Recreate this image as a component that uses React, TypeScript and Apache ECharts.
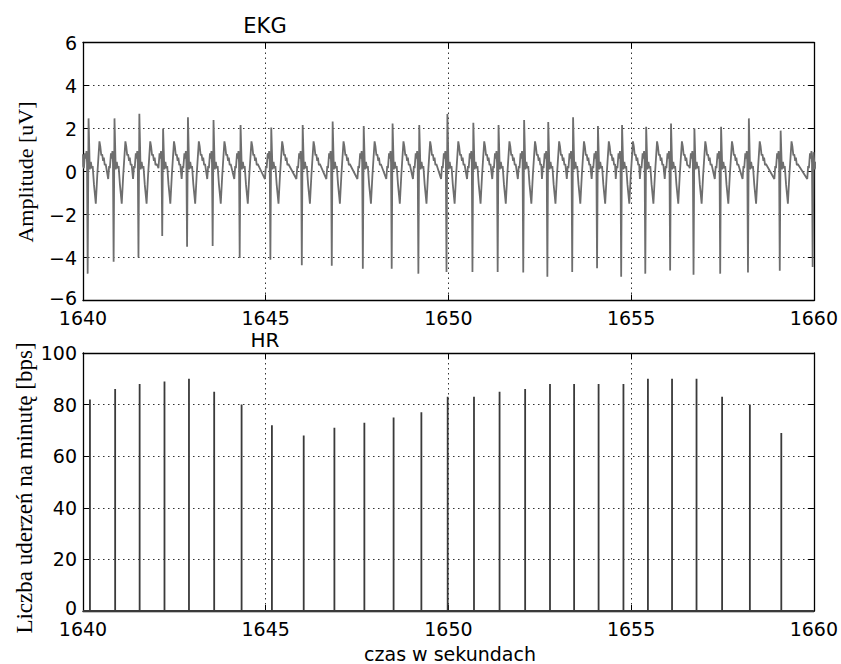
import React, { useEffect, useRef } from "react";
import * as echarts from "echarts";

// ---- Data ----
const xTicks = [1640, 1645, 1650, 1655, 1660];
const ecgYTicks = [-6, -4, -2, 0, 2, 4, 6];
const hrYTicks = [0, 20, 40, 60, 80, 100];

// ECG: QRS complex times (s), R-peak heights and S-trough depths (uV)
const ecgBeatTimes = [
  1640.14, 1640.85, 1641.53, 1642.18, 1642.86, 1643.56, 1644.3, 1645.14, 1646.0,
  1646.82, 1647.67, 1648.46, 1649.19, 1649.96, 1650.67, 1651.36, 1652.06, 1652.72,
  1653.4, 1654.08, 1654.74, 1655.4, 1656.08, 1656.72, 1657.45, 1658.21, 1659.08, 1659.98,
];
const ecgRPeaks = [
  2.47, 2.47, 2.68, 2.0, 2.52, 2.4, 2.16, 2.05, 2.16, 2.32, 2.12, 2.23, 2.16, 2.68,
  2.27, 2.16, 2.4, 2.3, 2.52, 2.12, 2.16, 2.08, 2.23, 2.0, 2.08, 2.47, 1.9, 0.9,
];
const ecgSTroughs = [
  -4.75, -4.2, -4.0, -3.0, -3.5, -3.46, -4.02, -4.1, -4.36, -4.38, -4.52, -4.52, -4.75,
  -4.67, -4.67, -4.67, -4.7, -4.9, -4.67, -4.5, -4.9, -4.75, -4.6, -4.8, -4.75, -4.7,
  -4.62, -4.44,
];
// Shape of one beat around the QRS, read from a representative beat (offset s, value uV)
const ecgPreWave = [
  [-0.16, -0.35],
  [-0.135, 0.25],
  [-0.115, 0.15],
  [-0.085, 0.85],
  [-0.065, 0.6],
  [-0.045, 0.95],
  [-0.03, 0.4],
];
const ecgPostWave = [
  [0.045, 0.1],
  [0.075, 0.45],
  [0.1, 0.15],
  [0.125, 0.25],
  [0.16, -0.6],
  [0.21, -1.5],
  [0.25, -0.2],
  [0.31, 1.4],
  [0.335, 1.15],
  [0.36, 0.75],
  [0.385, 0.8],
  [0.41, 0.5],
  [0.43, 0.65],
  [0.455, 0.3],
  [0.48, 0.35],
];
const ecgStartValue = 0.8;

// HR: beat times (s) and heart rate (beats per minute)
const hrTimes = [
  1640.19, 1640.88, 1641.55, 1642.23, 1642.9, 1643.59, 1644.34, 1645.17, 1646.04,
  1646.88, 1647.7, 1648.5, 1649.26, 1649.98, 1650.7, 1651.4, 1652.1, 1652.78, 1653.44,
  1654.11, 1654.79, 1655.46, 1656.12, 1656.79, 1657.49, 1658.25, 1659.11,
];
const hrValues = [
  82, 86, 88, 89, 90, 85, 80, 72, 68, 71, 73, 75, 77, 83, 83, 85, 86, 88, 88, 88, 88,
  90, 90, 90, 83, 80, 69,
];

function buildEcg(): number[][] {
  const pts: number[][] = [[xTicks[0], ecgStartValue]];
  ecgBeatTimes.forEach((t, i) => {
    const next = i + 1 < ecgBeatTimes.length ? ecgBeatTimes[i + 1] : Infinity;
    const prev = i > 0 ? ecgBeatTimes[i - 1] : -Infinity;
    ecgPreWave.forEach(([o, v]) => {
      if (t + o > prev + 0.49 && t + o > xTicks[0]) pts.push([t + o, v]);
    });
    pts.push([t - 0.012, ecgSTroughs[i]]);
    pts.push([t + 0.012, ecgRPeaks[i]]);
    ecgPostWave.forEach(([o, v]) => {
      if (t + o < next - 0.165) pts.push([t + o, v]);
    });
  });
  pts.sort((a, b) => a[0] - b[0]);
  return pts;
}

function buildHr(): number[][] {
  const pts: number[][] = [[xTicks[0], 0]];
  hrTimes.forEach((t, i) => {
    pts.push([t, 0], [t, hrValues[i]], [t, 0]);
  });
  pts.push([xTicks[xTicks.length - 1], 0]);
  return pts;
}

const yFmt = (minVal: number) => (v: number) => {
  const s = String(v).replace("-", "\u2212");
  return v === minVal ? `{lo|${s}}` : s;
};
const plainFmt = (v: number) => String(v);

const FONT = "DejaVu Sans";
const SERIF = "Liberation Serif";

export default function App() {
  const ref = useRef<HTMLDivElement>(null);
  useEffect(() => {
    if (!ref.current) return;
    const chart = echarts.init(ref.current, undefined, { renderer: "svg" });

    const gridLine = { show: true, lineStyle: { color: "#333", width: 1, type: [1.5, 3.5] as any } };
    const frame = { show: true, onZero: false, lineStyle: { color: "#000", width: 1.3 } };
    const tick = { show: true, inside: true, length: 6, lineStyle: { color: "#000", width: 1 } };
    const labelStyle = { color: "#000", fontFamily: FONT, fontSize: 19, lineHeight: 15 };

    const xMain = (gridIndex: number) => ({
      type: "value",
      gridIndex,
      min: xTicks[0],
      max: xTicks[xTicks.length - 1],
      interval: 5,
      position: "bottom",
      axisLine: frame,
      axisTick: tick,
      axisLabel: { ...labelStyle, margin: 10, formatter: plainFmt, showMinLabel: true, showMaxLabel: true },
      splitLine: gridLine,
    });
    const xTop = (gridIndex: number) => ({
      type: "value",
      gridIndex,
      min: xTicks[0],
      max: xTicks[xTicks.length - 1],
      interval: 5,
      position: "top",
      axisLine: frame,
      axisTick: tick,
      axisLabel: { show: false },
      splitLine: { show: false },
    });
    const yMain = (gridIndex: number, ticks: number[]) => ({
      type: "value",
      gridIndex,
      min: ticks[0],
      max: ticks[ticks.length - 1],
      interval: ticks[1] - ticks[0],
      position: "left",
      axisLine: frame,
      axisTick: tick,
      axisLabel: {
        ...labelStyle,
        margin: 6,
        formatter: yFmt(ticks[0]),
        showMinLabel: true,
        showMaxLabel: true,
        rich: {
          lo: { fontFamily: FONT, fontSize: 19, color: "#000", lineHeight: 15, padding: [0, 0, 6, 0] },
        },
      },
      splitLine: gridLine,
    });
    const yRight = (gridIndex: number, ticks: number[]) => ({
      type: "value",
      gridIndex,
      min: ticks[0],
      max: ticks[ticks.length - 1],
      interval: ticks[1] - ticks[0],
      position: "right",
      axisLine: frame,
      axisTick: tick,
      axisLabel: { show: false },
      splitLine: { show: false },
    });

    chart.setOption({
      animation: false,
      backgroundColor: "#fff",
      grid: [
        { left: 83, top: 42.5, width: 734, height: 258 },
        { left: 83, top: 353, width: 734, height: 258 },
      ],
      xAxis: [xMain(0), xTop(0), xMain(1), xTop(1)],
      yAxis: [yMain(0, ecgYTicks), yRight(0, ecgYTicks), yMain(1, hrYTicks), yRight(1, hrYTicks)],
      series: [
        {
          type: "line",
          name: "EKG",
          xAxisIndex: 0,
          yAxisIndex: 0,
          data: buildEcg(),
          showSymbol: false,
          symbol: "none",
          clip: true,
          lineStyle: { color: "#6e6e6e", width: 1.8 },
        },
        {
          type: "line",
          name: "HR",
          xAxisIndex: 2,
          yAxisIndex: 2,
          data: buildHr(),
          showSymbol: false,
          symbol: "none",
          clip: true,
          lineStyle: { color: "#3a3a3a", width: 1.8 },
        },
      ],
      graphic: [
        {
          type: "text",
          x: 265,
          y: 26,
          style: { text: "EKG", font: `21px "${FONT}"`, fill: "#000", textAlign: "center", textVerticalAlign: "middle" },
        },
        {
          type: "text",
          x: 265,
          y: 340,
          style: { text: "HR", font: `20px "${FONT}"`, fill: "#000", textAlign: "center", textVerticalAlign: "middle" },
        },
        {
          type: "text",
          x: 25,
          y: 172,
          rotation: Math.PI / 2,
          style: { text: "Amplitude [uV]", font: `22px "${SERIF}"`, fill: "#000", textAlign: "center", textVerticalAlign: "middle" },
        },
        {
          type: "text",
          x: 24,
          y: 488,
          rotation: Math.PI / 2,
          style: {
            text: "Liczba uderzeń na minutę [bps]",
            font: `23px "${SERIF}"`,
            fill: "#000",
            textAlign: "center",
            textVerticalAlign: "middle",
          },
        },
        {
          type: "text",
          x: 450,
          y: 654,
          style: { text: "czas w sekundach", font: `19px "${FONT}"`, fill: "#000", textAlign: "center", textVerticalAlign: "middle" },
        },
      ],
    });
    return () => chart.dispose();
  }, []);
  return <div ref={ref} style={{ position: "absolute", left: 0, top: 0, width: 841, height: 664 }} />;
}
